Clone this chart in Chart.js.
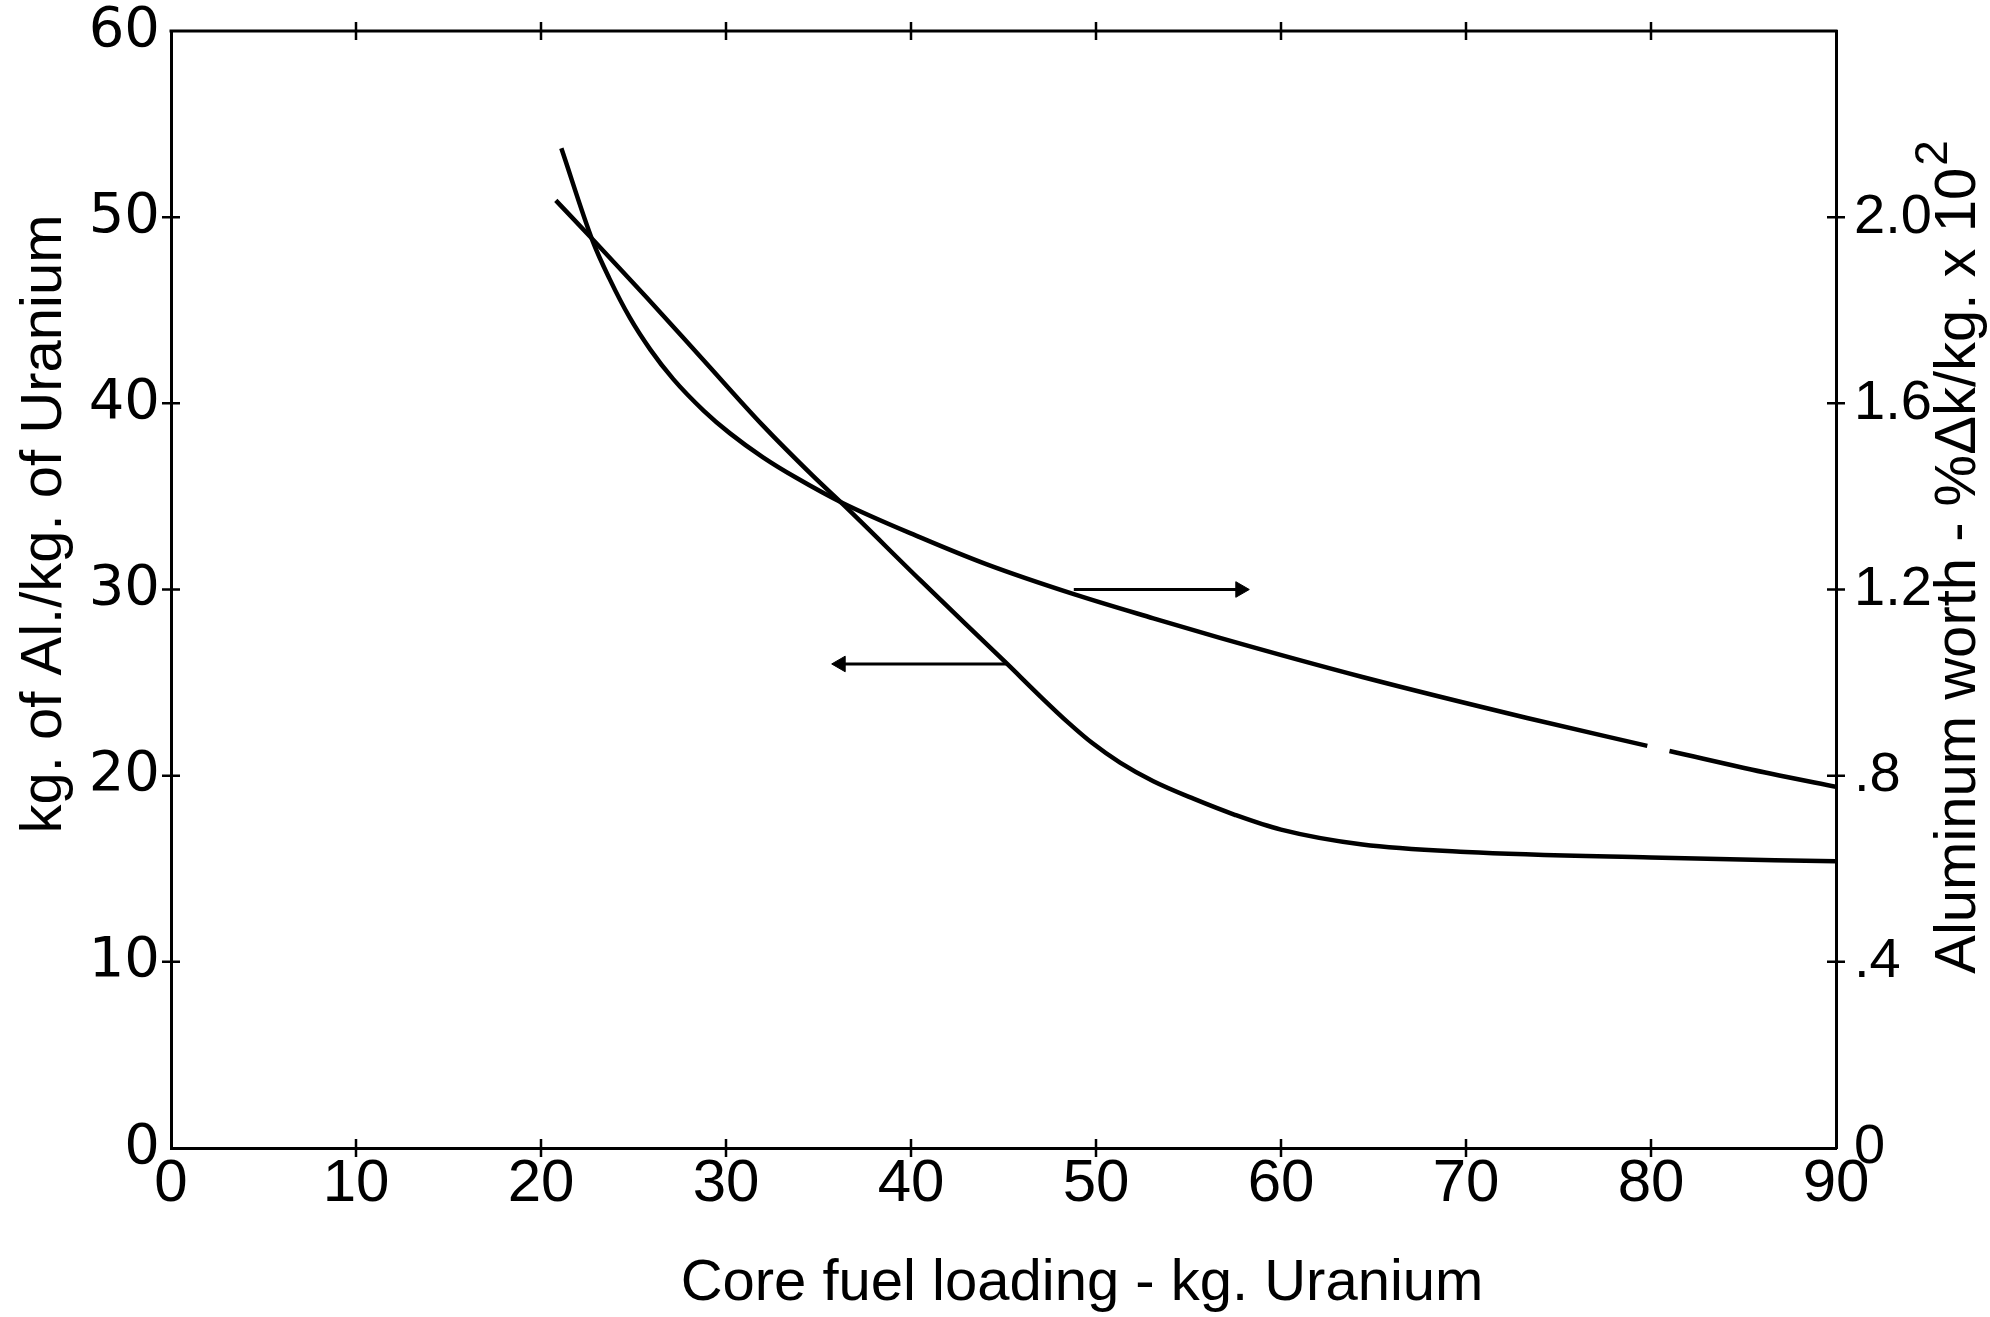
<!DOCTYPE html>
<html>
<head>
<meta charset="utf-8">
<script src="https://cdn.jsdelivr.net/npm/chart.js@4.4.1/dist/chart.umd.min.js"></script>
<style>
html,body{margin:0;padding:0;background:#fff;}
#wrap{width:1990px;height:1317px;position:relative;}
</style>
</head>
<body>
<div id="wrap"><canvas id="c" width="1990" height="1317"></canvas></div>
<script>
// ---- texts ----
const xTitle = 'Core fuel loading - kg. Uranium';
const yLeftTitle = 'kg. of Al./kg. of Uranium';
const yRightTitle = 'Aluminum worth - %\u0394k/kg. x 10';
const yRightTitleSup = '2';

// ---- tick labels ----
const yRightTickLabels = ['0', '.4', '.8', '1.2', '1.6', '2.0', ''];

// ---- series: kg Al / kg U (left axis) ----
const ratioX = [20.8, 22.8, 25.7, 28.8, 32.0, 34.7, 36.4, 40.5, 45.2, 47.0, 48.5, 49.8, 51.3, 53.1, 55.3, 57.5, 60.0, 64.4, 70.0, 80.0, 90.0];
const ratioY = [50.9, 48.8, 45.7, 42.3, 38.8, 36.1, 34.5, 30.5, 26.0, 24.25, 22.85, 21.75, 20.7, 19.7, 18.75, 17.9, 17.1, 16.3, 15.9, 15.6, 15.4];

// ---- series: aluminum worth, %dk/kg x 10^2 (right axis) ----
const worthX = [21.1, 22.8, 23.7, 24.8, 25.9, 27.15, 28.8, 30.2, 32.0, 33.8, 36.3, 40.5, 44.1, 48.8, 53.1, 56.7, 64.4, 73.3, 79.8, 80.4, 81.0, 86.5, 90.0];
const worthY = [2.148, 1.948, 1.868, 1.784, 1.716, 1.652, 1.584, 1.536, 1.484, 1.44, 1.386, 1.312, 1.254, 1.19, 1.138, 1.096, 1.012, 0.924, 0.864, null, 0.853, 0.804, 0.776];

// ---- pointer arrows (tail on curve, head toward axis) ----
const ratioArrowX = [45.2, 36.2];
const ratioArrowY = [26.0, 26.0];
const worthArrowX = [48.8, 57.8];
const worthArrowY = [1.2, 1.2];

const toPts = (xs, ys) => xs.map((x, i) => ({x: x, y: ys[i]}));

const framePlugin = {
  id: 'frame',
  afterDraw(chart) {
    const {ctx, chartArea: a, scales} = chart;
    ctx.save();
    ctx.strokeStyle = '#000';
    ctx.lineWidth = 3;
    ctx.beginPath();
    ctx.moveTo(a.left - 1.5, a.top);
    ctx.lineTo(a.right + 1.5, a.top);
    ctx.stroke();
    // crossing tick marks on all four sides
    const T = 9;
    ctx.lineWidth = 2.5;
    ctx.beginPath();
    scales.x.ticks.forEach(t => {
      if (t.value <= scales.x.min || t.value >= scales.x.max) return;
      const p = scales.x.getPixelForValue(t.value);
      ctx.moveTo(p, a.bottom - T); ctx.lineTo(p, a.bottom + T);
      ctx.moveTo(p, a.top - T); ctx.lineTo(p, a.top + T);
    });
    scales.y.ticks.forEach(t => {
      if (t.value <= scales.y.min || t.value >= scales.y.max) return;
      const p = scales.y.getPixelForValue(t.value);
      ctx.moveTo(a.left - T, p); ctx.lineTo(a.left + T, p);
    });
    scales.y2.ticks.forEach(t => {
      if (t.value <= scales.y2.min + 1e-9 || t.value >= scales.y2.max - 1e-9) return;
      const p = scales.y2.getPixelForValue(t.value);
      ctx.moveTo(a.right - T, p); ctx.lineTo(a.right + T, p);
    });
    ctx.stroke();

    // axis titles
    ctx.fillStyle = '#000';
    const fs = 58;
    const capHalf = fs * 0.716 / 2;
    ctx.font = fs + 'px "Liberation Sans", Arial, sans-serif';
    ctx.textBaseline = 'alphabetic';
    ctx.textAlign = 'center';
    ctx.fillText(xTitle, 1082, 1300);

    // left title (reads bottom-to-top)
    ctx.save();
    ctx.translate(40, 524);
    ctx.rotate(-Math.PI / 2);
    ctx.textAlign = 'center';
    ctx.fillText(yLeftTitle, 0, capHalf);
    ctx.restore();

    // right title (reads bottom-to-top) with superscript
    ctx.save();
    ctx.translate(1954, 558);
    ctx.rotate(-Math.PI / 2);
    ctx.textAlign = 'left';
    ctx.font = fs + 'px "Liberation Sans", Arial, sans-serif';
    const mainW = ctx.measureText(yRightTitle).width;
    const supFont = '46px "Liberation Sans", Arial, sans-serif';
    ctx.font = supFont;
    const supW = ctx.measureText(yRightTitleSup).width;
    const start = -(mainW + supW) / 2;
    ctx.font = fs + 'px "Liberation Sans", Arial, sans-serif';
    ctx.fillText(yRightTitle, start, capHalf);
    ctx.font = supFont;
    ctx.fillText(yRightTitleSup, start + mainW + 2, capHalf - 28);
    ctx.restore();

    ctx.restore();
  }
};

const curveStyle = {
  borderColor: '#000',
  borderWidth: 4.5,
  pointRadius: 0,
  fill: false,
  cubicInterpolationMode: 'monotone',
  spanGaps: false
};

new Chart(document.getElementById('c'), {
  type: 'line',
  data: {
    datasets: [
      Object.assign({label: 'kg Al / kg U', data: toPts(ratioX, ratioY), yAxisID: 'y'}, curveStyle),
      Object.assign({label: 'Aluminum worth', data: toPts(worthX, worthY), yAxisID: 'y2'}, curveStyle),
      {
        label: 'arrow-left', data: toPts(ratioArrowX, ratioArrowY), yAxisID: 'y',
        borderColor: '#000', borderWidth: 3, fill: false,
        pointRadius: [0, 9], pointStyle: 'triangle', rotation: -90,
        pointBackgroundColor: '#000', pointBorderColor: '#000', pointBorderWidth: 1
      },
      {
        label: 'arrow-right', data: toPts(worthArrowX, worthArrowY), yAxisID: 'y2',
        borderColor: '#000', borderWidth: 3, fill: false,
        pointRadius: [0, 9], pointStyle: 'triangle', rotation: 90,
        pointBackgroundColor: '#000', pointBorderColor: '#000', pointBorderWidth: 1
      }
    ]
  },
  options: {
    responsive: false,
    animation: false,
    devicePixelRatio: 1,
    layout: {padding: {top: 31, left: 0, right: 0, bottom: 0}},
    plugins: {legend: {display: false}, tooltip: {enabled: false}, title: {display: false}},
    elements: {line: {tension: 0.4}},
    scales: {
      x: {
        type: 'linear', position: 'bottom', min: 0, max: 90,
        ticks: {stepSize: 10, color: '#000', padding: 0,
                font: {family: '"Liberation Sans", Arial, sans-serif', size: 60}},
        grid: {display: true, drawOnChartArea: false, drawTicks: false},
        border: {display: true, color: '#000', width: 3},
        afterFit: s => { s.height = 169; s.paddingLeft = 0; s.paddingRight = 0; }
      },
      y: {
        type: 'linear', position: 'left', min: 0, max: 60,
        ticks: {stepSize: 10, color: '#000', padding: 11,
                font: {family: '"DejaVu Sans", sans-serif', size: 56}},
        grid: {display: true, drawOnChartArea: false, drawTicks: false},
        border: {display: true, color: '#000', width: 3},
        afterFit: s => { s.width = 171; s.paddingTop = 0; s.paddingBottom = 0; }
      },
      y2: {
        type: 'linear', position: 'right', min: 0, max: 2.4,
        ticks: {stepSize: 0.4, color: '#000', padding: 18,
                font: {family: '"Liberation Sans Narrow", "Liberation Sans", Arial, sans-serif', size: 56},
                callback: (v, i) => yRightTickLabels[i] !== undefined ? yRightTickLabels[i] : ''},
        grid: {display: true, drawOnChartArea: false, drawTicks: false},
        border: {display: true, color: '#000', width: 3},
        afterFit: s => { s.width = 154; s.paddingTop = 0; s.paddingBottom = 0; }
      }
    }
  },
  plugins: [framePlugin]
});
</script>
</body>
</html>
